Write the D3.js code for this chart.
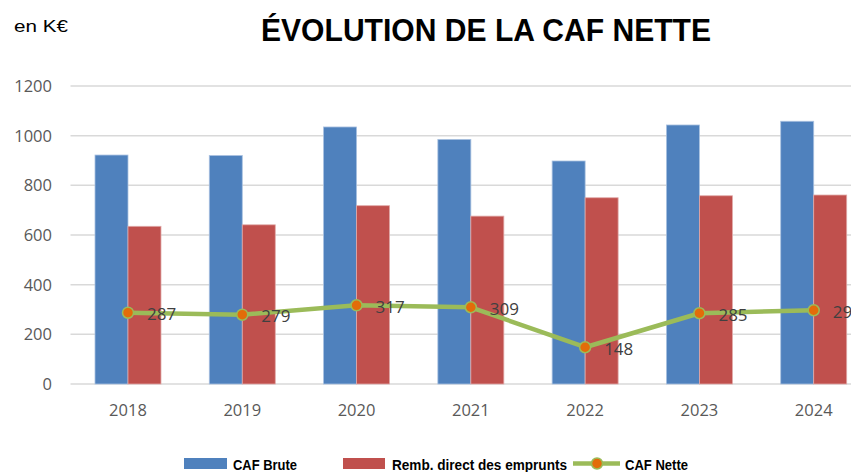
<!DOCTYPE html>
<html><head><meta charset="utf-8">
<script src="https://cdn.jsdelivr.net/npm/d3@7"></script>
<style>html,body{margin:0;padding:0;background:#fff;overflow:hidden}</style>
</head><body>
<svg id="c" width="851" height="472"></svg>
<script>
const years = ["2018","2019","2020","2021","2022","2023","2024"];
const cafBrute = [922, 920, 1035, 985, 898, 1043, 1058];
const rembEmprunts = [635, 641, 718, 676, 750, 758, 761];
const cafNette = [287, 279, 317, 309, 148, 285, 297];
const yTicks = [0, 200, 400, 600, 800, 1000, 1200];
const seriesNames = ["CAF Brute", "Remb. direct des emprunts", "CAF Nette"];
const titleText = "ÉVOLUTION DE LA CAF NETTE";
const unitText = "en K€";

const svg = d3.select("#c");
const blue = "#4F81BD", red = "#C0504D", green = "#9BBB59", orange = "#E36C09";
const numFont = "'Open Sans', 'DejaVu Sans', sans-serif";

const x = d3.scaleBand().domain(years).range([70.85, 870.85]).paddingInner(0).paddingOuter(0);
const bw = x.bandwidth();
const x1 = d3.scaleBand().domain(["brute","remb"]).range([bw*0.2113, bw*0.7887]).padding(0);
const y = d3.scaleLinear().domain([0, 1200]).range([384, 86]);

// gridlines
svg.append("g").selectAll("line").data(yTicks).join("line")
  .attr("x1", 70.5).attr("x2", 851).attr("y1", d => y(d)).attr("y2", d => y(d))
  .attr("stroke", "#D9D9D9").attr("stroke-width", 1.5);

// y labels
svg.append("g").selectAll("text").data(yTicks).join("text")
  .attr("x", 52).attr("y", d => y(d)).attr("dy", "0.36em")
  .attr("text-anchor", "end").attr("font-family", numFont).attr("font-size", 16.5)
  .attr("fill", "#595959").text(d => d);

// x labels
svg.append("g").selectAll("text").data(years).join("text")
  .attr("x", d => x(d) + bw/2).attr("y", 416)
  .attr("text-anchor", "middle").attr("font-family", numFont).attr("font-size", 16.5)
  .attr("fill", "#595959").text(d => d);

// bars
const g = svg.append("g");
g.selectAll(".b").data(years).join("rect").attr("class","b")
  .attr("x", d => x(d) + x1("brute")).attr("width", x1.bandwidth())
  .attr("y", (d,i) => y(cafBrute[i])).attr("height", (d,i) => y(0) - y(cafBrute[i]))
  .attr("fill", blue).attr("stroke", "#A9C1E0").attr("stroke-width", 0.8);
g.selectAll(".r").data(years).join("rect").attr("class","r")
  .attr("x", d => x(d) + x1("remb")).attr("width", x1.bandwidth())
  .attr("y", (d,i) => y(rembEmprunts[i])).attr("height", (d,i) => y(0) - y(rembEmprunts[i]))
  .attr("fill", red).attr("stroke", "#E0A9A8").attr("stroke-width", 0.8);

// line
const line = d3.line().x((d,i) => x(years[i]) + bw/2).y(d => y(d));
svg.append("path").datum(cafNette).attr("d", line)
  .attr("fill", "none").attr("stroke", green).attr("stroke-width", 4.5).attr("stroke-linejoin","round");
svg.append("g").selectAll("circle").data(cafNette).join("circle")
  .attr("cx", (d,i) => x(years[i]) + bw/2).attr("cy", d => y(d)).attr("r", 5.5)
  .attr("fill", orange).attr("stroke", green).attr("stroke-width", 1.5);
svg.append("g").selectAll("text").data(cafNette).join("text")
  .attr("x", (d,i) => x(years[i]) + bw/2 + 19).attr("y", d => y(d) + 7.5)
  .attr("font-family", numFont).attr("font-size", 17).attr("fill", "#404040").text(d => d);

// title & unit
svg.append("text").attr("x", 261).attr("y", 41)
  .attr("font-family", "'Liberation Sans', Arial, sans-serif").attr("font-weight", "bold")
  .attr("font-size", 31).attr("fill", "#000")
  .attr("textLength", 450).attr("lengthAdjust", "spacingAndGlyphs").text(titleText);
svg.append("text").attr("x", 14).attr("y", 32)
  .attr("font-family", "'Liberation Sans', Arial, sans-serif").attr("font-size", 17)
  .attr("fill", "#000").attr("textLength", 54).attr("lengthAdjust", "spacingAndGlyphs").text(unitText);

// legend
const lf = "'Liberation Sans', Arial, sans-serif";
const leg = svg.append("g");
leg.append("rect").attr("x", 184).attr("y", 458).attr("width", 43).attr("height", 11).attr("fill", blue);
leg.append("text").attr("x", 233).attr("y", 469.5).attr("font-family", lf).attr("font-weight","bold")
  .attr("font-size", 14).attr("textLength", 64).attr("lengthAdjust","spacingAndGlyphs").text(seriesNames[0]);
leg.append("rect").attr("x", 343).attr("y", 458).attr("width", 42).attr("height", 11).attr("fill", red);
leg.append("text").attr("x", 392).attr("y", 469.5).attr("font-family", lf).attr("font-weight","bold")
  .attr("font-size", 14).attr("textLength", 175).attr("lengthAdjust","spacingAndGlyphs").text(seriesNames[1]);
leg.append("line").attr("x1", 573).attr("x2", 620).attr("y1", 463.5).attr("y2", 463.5)
  .attr("stroke", green).attr("stroke-width", 4.5);
leg.append("circle").attr("cx", 597).attr("cy", 463.5).attr("r", 5.5)
  .attr("fill", orange).attr("stroke", green).attr("stroke-width", 1.5);
leg.append("text").attr("x", 625).attr("y", 469.5).attr("font-family", lf).attr("font-weight","bold")
  .attr("font-size", 14).attr("textLength", 63).attr("lengthAdjust","spacingAndGlyphs").text(seriesNames[2]);
</script>
</body></html>
